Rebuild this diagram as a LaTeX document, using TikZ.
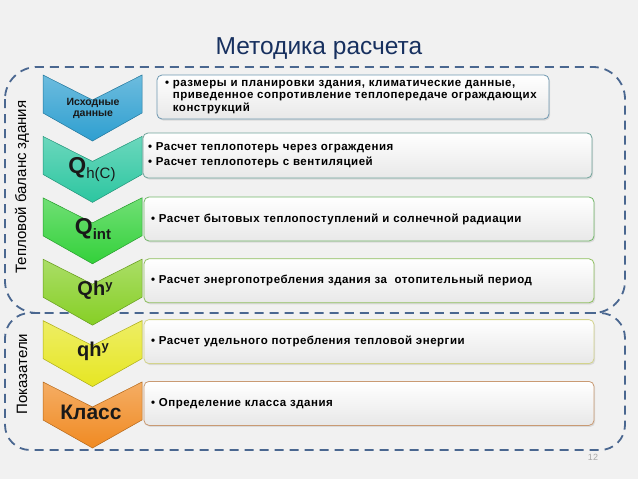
\documentclass[tikz,border=0pt]{standalone}
\usepackage{fontspec}
\setmainfont{Liberation Sans}
\newfontfamily\boxfont[LetterSpace=4.5]{Liberation Sans}
\usetikzlibrary{positioning,shadows}
\definecolor{bgGray}{HTML}{F1F1F1}
\definecolor{titleBlue}{HTML}{17305F}
\definecolor{frameBlue}{HTML}{4A6790}
\definecolor{chevBlue}{HTML}{2E9FD0}
\definecolor{chevTeal}{HTML}{2CC6A0}
\definecolor{chevGreen}{HTML}{33D13A}
\definecolor{chevLime}{HTML}{86CF25}
\definecolor{chevYellow}{HTML}{E6E622}
\definecolor{chevOrange}{HTML}{F08A22}
\definecolor{edgeBlue}{HTML}{6E97B0}
\definecolor{edgeTeal}{HTML}{6FA39A}
\definecolor{edgeGreen}{HTML}{74B86A}
\definecolor{edgeLime}{HTML}{8FC060}
\definecolor{edgeYellow}{HTML}{D3D38C}
\definecolor{edgeOrange}{HTML}{C99A73}
\tikzset{
  frame line/.style={draw=frameBlue,line width=1.8pt,dash pattern=on 9pt off 6pt},
  chevron/.style={draw=#1!75!black,line width=0.5pt,top color=#1!70!white,
    bottom color=#1},
  chevron label/.style={text=black!90,inner sep=0pt,align=center},
  info box/.style={draw=#1,line width=0.8pt,rounded corners=5pt,
    top color=white,bottom color=black!9,
    drop shadow={opacity=0.2,shadow xshift=1.2pt,shadow yshift=-1.5pt},
    minimum height=44pt,inner ysep=2pt,align=left,
    font=\boxfont\bfseries\fontsize{11.5}{12.7}\selectfont},
  side label/.style={rotate=90,inner sep=0pt,font=\fontsize{15}{16}\selectfont}
}

\begin{document}
\begin{tikzpicture}[x=1pt,y=-1pt]
    \useasboundingbox (0,0) rectangle (638,479);
    \fill[bgGray] (0,0) rectangle (638,479);
    \node[anchor=base,text=titleBlue,font=\fontsize{24.5}{28}\selectfont]
      (title) at (319,54) {Методика расчета};

    % dashed frames
    \draw[frame line,rounded corners=32pt] (5,67) rectangle (625,313);
    \draw[frame line,rounded corners=25pt] (40,313) -- (5,313) -- (5,450)
      -- (625,450) -- (625,313) -- (590,313);
    \node[side label] (sideBalance) at (22,187) {Тепловой баланс здания};
    \node[side label] (sideIndic) at (22,374) {Показатели};

    % chevrons
    \foreach \y/\c in {75/chevBlue,136.4/chevTeal,197.8/chevGreen,
      259.2/chevLime,320.6/chevYellow,382/chevOrange}
      \draw[chevron=\c] (43,\y) -- ++(49.5,25) -- ++(49.5,-25) -- ++(0,38)
        -- ++(-49.5,28) -- ++(-49.5,-28) -- cycle;

    \node[chevron label,font=\bfseries\fontsize{10.5}{11.5}\selectfont]
      (lblSource) at (93,108.5) {Исходные\\данные};
    \node[chevron label] (lblLoss) at (92,170)
      {{\fontsize{23}{23}\selectfont\bfseries Q}\raisebox{-5pt}{\fontsize{15}{15}\selectfont h(C)}};
    \node[chevron label] (lblGain) at (93,229)
      {{\fontsize{23}{23}\selectfont\bfseries Q}\raisebox{-5pt}{\fontsize{15}{15}\selectfont\bfseries int}};
    \node[chevron label,font=\bfseries\fontsize{20}{20}\selectfont]
      (lblNeed) at (95,290) {Qh\raisebox{6pt}{\fontsize{13}{13}\selectfont y}};
    \node[chevron label,font=\bfseries\fontsize{20}{20}\selectfont]
      (lblSpec) at (93,351) {qh\raisebox{6pt}{\fontsize{13}{13}\selectfont y}};
    \node[chevron label,font=\bfseries\fontsize{21}{21}\selectfont]
      (lblClass) at (91,412) {Класс};

    % text boxes
    \node[info box=edgeBlue,inner xsep=8pt,text width=376pt] (boxSource)
      at (353,97)
      {\textbullet\ размеры и планировки здания, климатические данные,\\
       \phantom{\textbullet\ }приведенное сопротивление теплопередаче ограждающих\\
       \phantom{\textbullet\ }конструкций};
    \node[info box=edgeTeal,inner xsep=5pt,minimum height=45pt,text width=439pt]
      (boxLoss) at (367.5,155.5)
      {\textbullet\ Расчет теплопотерь через ограждения\\[2pt]
       \textbullet\ Расчет теплопотерь с вентиляцией};
    \node[info box=edgeGreen,inner xsep=7pt,text width=436pt] (boxGain)
      at (369,219) {\textbullet\ Расчет бытовых теплопоступлений и солнечной радиации};
    \node[info box=edgeLime,inner xsep=7pt,text width=436pt,below=17pt of boxGain]
      (boxNeed) {\textbullet\ Расчет энергопотребления здания за\ \ отопительный период};
    \node[info box=edgeYellow,inner xsep=7pt,text width=436pt,below=16pt of boxNeed]
      (boxSpec) {\textbullet\ Расчет удельного потребления тепловой энергии};
    \node[info box=edgeOrange,inner xsep=7pt,text width=436pt,below=17pt of boxSpec]
      (boxClass) {\textbullet\ Определение класса здания};

    \node[text=black!35,font=\fontsize{9}{10}\selectfont] (pageNo) at (593,457) {12};
  \end{tikzpicture}
\end{document}
